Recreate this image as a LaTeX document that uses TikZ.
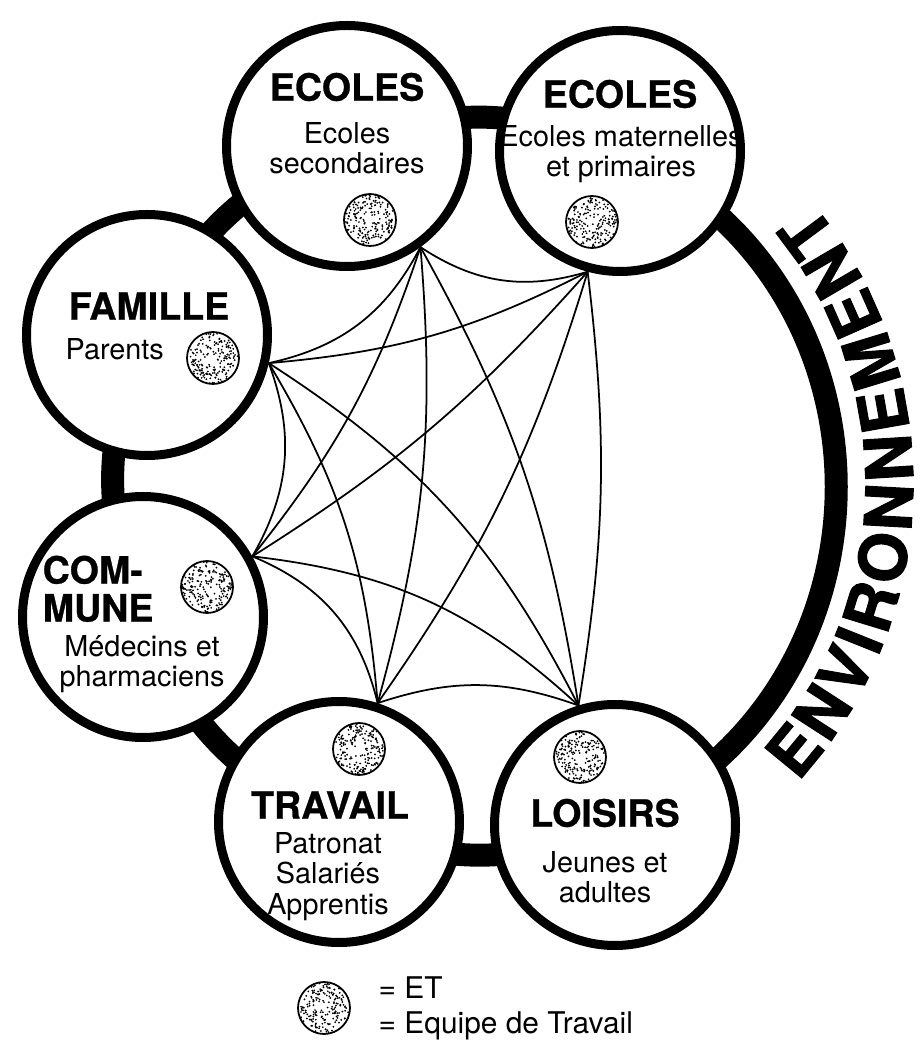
\documentclass[tikz,border=0pt]{standalone}
\usepackage{fontspec}
\setmainfont{TeX Gyre Heros}
\newfontfamily\heavyfont{TeX Gyre Heros}[FakeBold=1.6]
\newfontfamily\titlefont{TeX Gyre Heros}[FakeBold=0.7]
\usetikzlibrary{positioning,calc,backgrounds}
\tikzset{
  place/.style  = {circle,draw,line width=0.09cm,fill=white,minimum size=2.41cm,inner sep=0pt},
  band/.style   = {line width=0.23cm},
  link/.style   = {line width=0.5pt},
  title/.style  = {inner sep=0pt, font=\titlefont\fontsize{10.7}{10.8}\selectfont\bfseries},
  detail/.style = {inner sep=0pt, align=center, font=\fontsize{8.2}{8.6}\selectfont},
  envletter/.style = {inner sep=0pt, anchor=base, font=\heavyfont\fontsize{18.6}{20}\selectfont\bfseries},
  team/.style   = {circle,draw,line width=0.5pt,minimum size=0.52cm,inner sep=0pt,
    path picture={\foreach \k in {1,...,190}
      \fill ($(path picture bounding box.center)+({360*rnd}:{0.26*sqrt(rnd)})$) circle (0.28pt);}}
}

\begin{document}
\begin{tikzpicture}
    \useasboundingbox (0,0) rectangle (9.23,10.5);
    \pgfmathsetseed{5}
    \coordinate (ring) at (4.70,5.66);

    % ecoles secondaires
    \node[place] (es) at (3.47,9.04) {};
    \node[title] at ($(es.center)+(0,0.59)$) {ECOLES};
    \node[detail,anchor=north] at ($(es.center)+(0,0.24)$) {Ecoles\\secondaires};
    \node[team] (es-et) at ($(es.center)+(0.23,-0.74)$) {};

    % ecoles maternelles
    \node[place] (em) at (6.20,8.99) {};
    \node[title] at ($(em.center)+(0,0.57)$) {ECOLES};
    \node[detail,anchor=north] at ($(em.center)+(0.01,0.26)$) {Ecoles maternelles\\et primaires};
    \node[team] (em-et) at ($(em.center)+(-0.28,-0.71)$) {};

    % famille
    \node[place] (fa) at (1.47,7.15) {};
    \node[title] at ($(fa.center)+(0.02,0.29)$) {FAMILLE};
    \node[detail,anchor=base west] at ($(fa.center)+(-0.82,-0.25)$) {Parents};
    \node[team] (fa-et) at ($(fa.center)+(0.66,-0.23)$) {};

    % commune
    \node[place] (co) at (1.43,4.33) {};
    \node[title,align=left,anchor=north west] at ($(co.center)+(-1.01,0.62)$) {COM-\\MUNE};
    \node[team] (co-et) at ($(co.center)+(0.64,0.30)$) {};
    \node[detail,anchor=north] at ($(co.center)+(-0.01,-0.18)$) {Médecins et\\pharmaciens};

    % travail
    \node[place] (tr) at (3.39,2.28) {};
    \node[team] (tr-et) at ($(tr.center)+(0.20,0.73)$) {};
    \node[title] at ($(tr.center)+(-0.09,0.17)$) {TRAVAIL};
    \node[detail,anchor=north] at ($(tr.center)+(-0.11,-0.10)$) {Patronat\\Salariés\\Apprentis};

    % loisirs
    \node[place] (lo) at (6.15,2.25) {};
    \node[team] (lo-et) at ($(lo.center)+(-0.35,0.68)$) {};
    \node[title] at ($(lo.center)+(-0.10,0.12)$) {LOISIRS};
    \node[detail,anchor=north] at ($(lo.center)+(-0.10,-0.26)$) {Jeunes et\\adultes};

    % thick ring behind the circles
    \begin{pgfonlayer}{background}
      \draw[band] (em.center) to[bend right=23] (es.center)
                  to[bend right=23] (fa.center) to[bend right=23] (co.center)
                  to[bend right=23] (tr.center) to[bend right=23] (lo.center)
                  to[bend right=66,looseness=1.21] (em.center);
    \end{pgfonlayer}

    % links between all places
    \draw[link] (em.-105) to[bend left=25] (es.-54);
    \draw[link] (em.-105) to[bend left=11] (fa.-13);
    \draw[link] (em.-105) to[bend left=8]  (co.29);
    \draw[link] (em.-105) to[bend left=9]  (tr.72);
    \draw[link] (em.-105) to[bend left=8]  (lo.107);
    \draw[link] (es.-54)  to[bend left=25] (fa.-13);
    \draw[link] (es.-54)  to[bend left=10] (co.29);
    \draw[link] (es.-54)  to[bend left=10] (tr.72);
    \draw[link] (es.-54)  to[bend left=10] (lo.107);
    \draw[link] (fa.-13)  to[bend left=25] (co.29);
    \draw[link] (fa.-13)  to[bend left=13] (tr.72);
    \draw[link] (fa.-13)  to[bend left=15] (lo.107);
    \draw[link] (co.29)   to[bend left=27] (tr.72);
    \draw[link] (co.29)   to[bend left=18] (lo.107);
    \draw[link] (tr.72)   to[bend left=19] (lo.107);

    % environnement, letter by letter round the ring
    \foreach \ch/\a [count=\i] in {E/-39.40,N/-32.93,V/-26.46,I/-21.85,R/-17.01,
        O/-10.08,N/-3.15,N/3.55,E/10.01,M/16.95,E/23.88,N/30.36,T/36.59}
      \node[envletter,rotate=\a+90] (env\i) at ($(ring)+(\a:4.43)$) {\ch};

    % legend
    \node[team] (key) at (3.24,0.42) {};
    \node[detail,align=left,font=\fontsize{8.5}{10}\selectfont,right=0.27cm of key] (keytext)
      {= ET\\= Equipe de Travail};
\end{tikzpicture}
\end{document}
